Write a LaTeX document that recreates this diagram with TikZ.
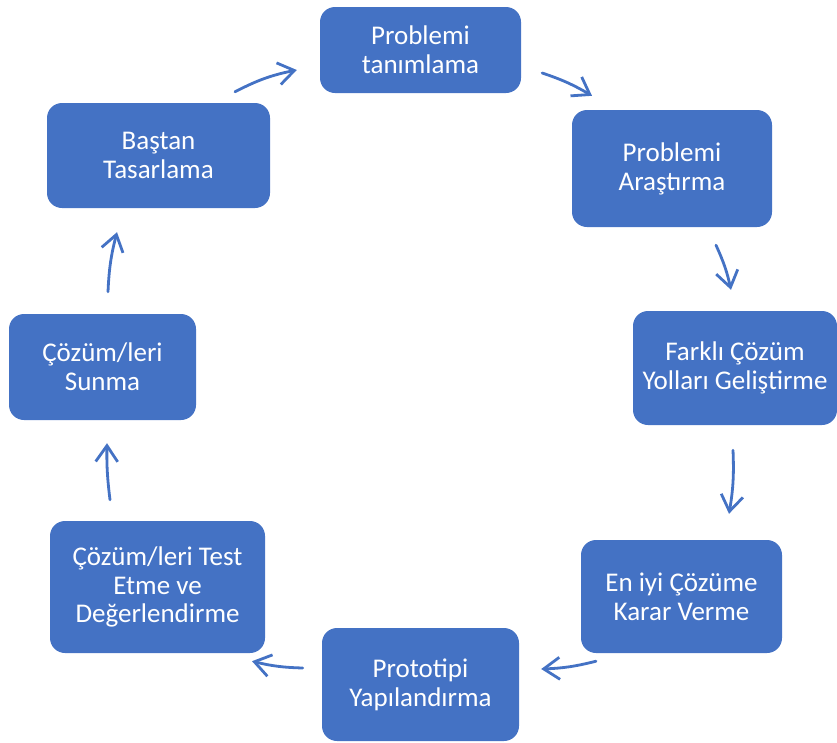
\documentclass[tikz,border=0pt]{standalone}
\usepackage{fontspec}
\setmainfont{Carlito}
\usetikzlibrary{arrows.meta,calc}
\definecolor{boxblue}{HTML}{4472C4}
\definecolor{arrowblue}{HTML}{4472C4}
\tikzset{
  stepbox/.style={fill=boxblue, draw=none, rounded corners=15pt, text=white,
    align=center, inner sep=0pt, font=\fontsize{27}{28.8}\selectfont},
  arr/.style={draw=arrowblue, line width=2.8pt, line cap=round, line join=round,
    -{Straight Barb[length=16pt,width=22pt,line width=2.8pt]}},
}
\begin{document}
\begin{tikzpicture}[x=1pt,y=-1pt]
\useasboundingbox (0,0) rectangle (837,742);
% process steps
\node[stepbox, minimum width=201pt, minimum height=86pt]  (n1) at (420.5,50)   {Problemi\\tanımlama};
\node[stepbox, minimum width=200pt, minimum height=117pt] (n2) at (672,168.5)  {Problemi\\Araştırma};
\node[stepbox, minimum width=204pt, minimum height=114pt] (n3) at (735,368)    {Farklı Çözüm\\Yolları Geliştirme};
\node[stepbox, minimum width=201pt, minimum height=113pt] (n4) at (681.5,596.5){En iyi Çözüme\\Karar Verme};
\node[stepbox, minimum width=197pt, minimum height=113pt] (n5) at (420.5,684.5){Prototipi\\Yapılandırma};
\node[stepbox, minimum width=215pt, minimum height=132pt] (n6) at (157.5,587)  {Çözüm/leri Test\\Etme ve\\Değerlendirme};
\node[stepbox, minimum width=187pt, minimum height=106pt] (n7) at (102.5,367)  {Çözüm/leri\\Sunma};
\node[stepbox, minimum width=223pt, minimum height=105pt] (n8) at (158.5,155.5){Baştan\\Tasarlama};
% cycle arrows
\draw[arr] ($(n8.north)+(76.5,-11)$) to[bend left=8]  ($(n1.west)+(-23,20)$);
\draw[arr] ($(n1.east)+(21,23)$)     to[bend left=6]  ($(n2.north)+(-80,-14)$);
\draw[arr] ($(n2.south)+(44,18)$)    to[bend left=6]  ($(n3.north)+(-4,-21)$);
\draw[arr] ($(n3.south)+(-2,25)$)    to[bend left=6]  ($(n4.north)+(47.5,-26)$);
\draw[arr] ($(n4.south)+(-85.5,8)$)  to[bend left=6]  ($(n5.east)+(22,-15.5)$);
\draw[arr] ($(n5.west)+(-19,-16.5)$) to[bend left=6]  ($(n6.south)+(94.5,8)$);
\draw[arr] ($(n6.north)+(-47.5,-21)$) to[bend left=4] ($(n7.south)+(4.5,23)$);
\draw[arr] ($(n7.north)+(5.5,-22)$)  to[bend left=6]  ($(n8.south)+(-41.5,24)$);
\end{tikzpicture}
\end{document}
